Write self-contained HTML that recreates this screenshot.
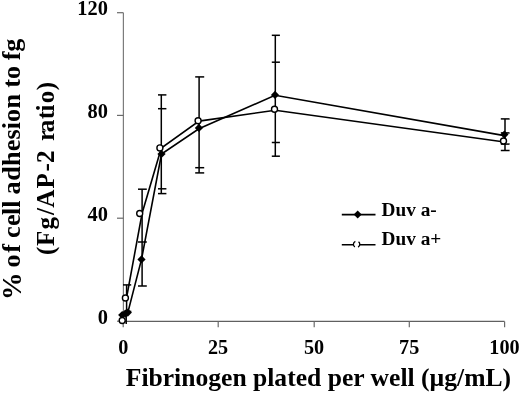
<!DOCTYPE html>
<html><head><meta charset="utf-8"><style>html,body{margin:0;padding:0;background:#fff;}svg{display:block;}</style></head><body>
<svg width="520" height="393" viewBox="0 0 520 393">
<rect width="520" height="393" fill="#fff"/>
<g stroke="#6a6a6a" stroke-width="1.2" fill="none">
<path d="M123.4,12.7 V321.4" stroke="#7c7c7c"/>
<path d="M123.4,321.4 H504.6" stroke="#606060"/>
<path d="M117,12.7 H123.4"/>
<path d="M117,115.4 H123.4"/>
<path d="M117,218.2 H123.4"/>
<path d="M117,321.2 H123.4"/>
<path d="M123.2,321.4 V327.3"/>
<path d="M218.2,321.4 V327.3"/>
<path d="M314.2,321.4 V327.3"/>
<path d="M409.3,321.4 V327.3"/>
<path d="M504.6,321.4 V327.3"/>
</g>
<g stroke="#000" stroke-width="1.5" fill="none">
<path d="M126.6,284.9 V312"/>
<path d="M123,284.9 H131.2"/>
<path d="M126.2,312 V324"/>
<path d="M125,311.4 H131.3"/>
<path d="M142.1,189.2 V286"/>
<path d="M138,189.2 H146.8"/>
<path d="M138,242 H146.8"/>
<path d="M138,286 H146.8"/>
<path d="M161.3,94.9 V193.6"/>
<path d="M158,94.9 H166.4"/>
<path d="M158,108.7 H166.4"/>
<path d="M158,188.8 H166.4"/>
<path d="M158,193.6 H166.4"/>
<path d="M199.1,76.9 V172.9"/>
<path d="M195.2,76.9 H204.2"/>
<path d="M195.2,167.7 H204.2"/>
<path d="M195.2,172.9 H204.2"/>
<path d="M275.3,35.3 V156.2"/>
<path d="M271.8,35.3 H279.9"/>
<path d="M271.8,62.2 H279.9"/>
<path d="M271.8,142.5 H279.9"/>
<path d="M271.8,156.2 H279.9"/>
<path d="M505.0,118.9 V150.5"/>
<path d="M500.8,118.9 H509.6"/>
<path d="M500.8,132.9 H509.6"/>
<path d="M500.8,144.1 H509.6"/>
<path d="M500.8,150.5 H509.6"/>
</g>
<polyline points="126.5,298.0 142.1,213.3 161.3,148.0 199.0,121.1 275.2,110.2 504.5,142.0" fill="none" stroke="#000" stroke-width="1.6"/>
<polyline points="122.2,315.0 125.3,313.6 127.8,312.6 141.5,259.4 161.5,154.0 198.9,128.8 275.0,95.3 504.4,135.6" fill="none" stroke="#000" stroke-width="1.6"/>
<path d="M122.2,310.9 L126.3,315.0 L122.2,319.1 L118.1,315.0Z" fill="#000"/>
<path d="M125.3,309.5 L129.4,313.6 L125.3,317.7 L121.2,313.6Z" fill="#000"/>
<path d="M127.8,308.5 L131.9,312.6 L127.8,316.7 L123.7,312.6Z" fill="#000"/>
<path d="M141.5,255.3 L145.6,259.4 L141.5,263.5 L137.4,259.4Z" fill="#000"/>
<path d="M161.5,149.9 L165.6,154.0 L161.5,158.1 L157.4,154.0Z" fill="#000"/>
<path d="M198.9,123.8 L203.0,127.9 L198.9,132.0 L194.8,127.9Z" fill="#000"/>
<path d="M275.0,90.8 L279.1,94.9 L275.0,99.0 L270.9,94.9Z" fill="#000"/>
<path d="M504.4,130.5 L508.5,134.6 L504.4,138.7 L500.3,134.6Z" fill="#000"/>
<circle cx="122.2" cy="320.5" r="3.0" fill="#fff" stroke="#000" stroke-width="1.4"/>
<circle cx="125.4" cy="298" r="3.0" fill="#fff" stroke="#000" stroke-width="1.4"/>
<circle cx="139.7" cy="213.5" r="3.0" fill="#fff" stroke="#000" stroke-width="1.4"/>
<circle cx="159.9" cy="147.9" r="3.0" fill="#fff" stroke="#000" stroke-width="1.4"/>
<circle cx="198.1" cy="120.8" r="3.0" fill="#fff" stroke="#000" stroke-width="1.4"/>
<circle cx="274.5" cy="109.2" r="3.0" fill="#fff" stroke="#000" stroke-width="1.4"/>
<circle cx="503.5" cy="141" r="3.0" fill="#fff" stroke="#000" stroke-width="1.4"/>
<g stroke="#000" stroke-width="1.6"><path d="M341.8,214.6 H375.5"/><path d="M341.8,244.8 H375.5"/></g>
<path d="M357.7,210.6 L361.7,214.6 L357.7,218.6 L353.7,214.6Z" fill="#000"/>
<circle cx="356.6" cy="244.3" r="3.2" fill="#fff" stroke="#000" stroke-width="1.3" stroke-dasharray="3.35 3.35 6.7 3.35 3.35"/>
<text x="381.6" y="215.6" font-size="19.3" font-family="Liberation Serif, Times New Roman, serif" font-weight="bold" fill="#000">Duv a-</text>
<text x="381.6" y="245.2" font-size="19.3" font-family="Liberation Serif, Times New Roman, serif" font-weight="bold" fill="#000">Duv a+</text>
<text x="107.9" y="14.9" font-size="20.4" text-anchor="end" font-family="Liberation Serif, Times New Roman, serif" font-weight="bold" fill="#000">120</text>
<text x="107.9" y="117.7" font-size="20.4" text-anchor="end" font-family="Liberation Serif, Times New Roman, serif" font-weight="bold" fill="#000">80</text>
<text x="107.9" y="220.5" font-size="20.4" text-anchor="end" font-family="Liberation Serif, Times New Roman, serif" font-weight="bold" fill="#000">40</text>
<text x="107.9" y="323.5" font-size="20.4" text-anchor="end" font-family="Liberation Serif, Times New Roman, serif" font-weight="bold" fill="#000">0</text>
<text x="123.2" y="353.8" font-size="20.2" text-anchor="middle" font-family="Liberation Serif, Times New Roman, serif" font-weight="bold" fill="#000">0</text>
<text x="218.1" y="353.8" font-size="20.2" text-anchor="middle" font-family="Liberation Serif, Times New Roman, serif" font-weight="bold" fill="#000">25</text>
<text x="314" y="353.8" font-size="20.2" text-anchor="middle" font-family="Liberation Serif, Times New Roman, serif" font-weight="bold" fill="#000">50</text>
<text x="409.2" y="353.8" font-size="20.2" text-anchor="middle" font-family="Liberation Serif, Times New Roman, serif" font-weight="bold" fill="#000">75</text>
<text x="504.5" y="353.8" font-size="20.2" text-anchor="middle" font-family="Liberation Serif, Times New Roman, serif" font-weight="bold" fill="#000">100</text>
<text x="318.45" y="386.4" font-size="25.6" text-anchor="middle" font-family="Liberation Serif, Times New Roman, serif" font-weight="bold" fill="#000">Fibrinogen plated per well (µg/mL)</text>
<text transform="translate(20.6,169.6) rotate(-90)" x="-130.3" y="0" font-size="27.6" font-family="Liberation Serif, Times New Roman, serif" font-weight="bold" fill="#000">%</text>
<text transform="translate(20,169.6) rotate(-90)" x="-97.8 -83.1 -75.0 -68.5 -56.4 -45.4 -38.1 -31.3 -25.0 -11.2 3.7 18.4 30.1 40.3 47.5 61.1 75.5 81.9 90.6 103.1 109.3 117.9" y="0" font-size="26.1" font-family="Liberation Serif, Times New Roman, serif" font-weight="bold" fill="#000">of cell adhesion to fg</text>
<text transform="translate(53.5,169) rotate(-90)" x="-85.9 -77.1 -60.4 -46.0 -38.7 -19.5 -2.6 6.1 18.7 27.9 36.7 49.8 57.4 65.7 78.7" y="0" font-size="25.1" font-family="Liberation Serif, Times New Roman, serif" font-weight="bold" fill="#000">(Fg/AP-2 ratio)</text>
</svg>
</body></html>
